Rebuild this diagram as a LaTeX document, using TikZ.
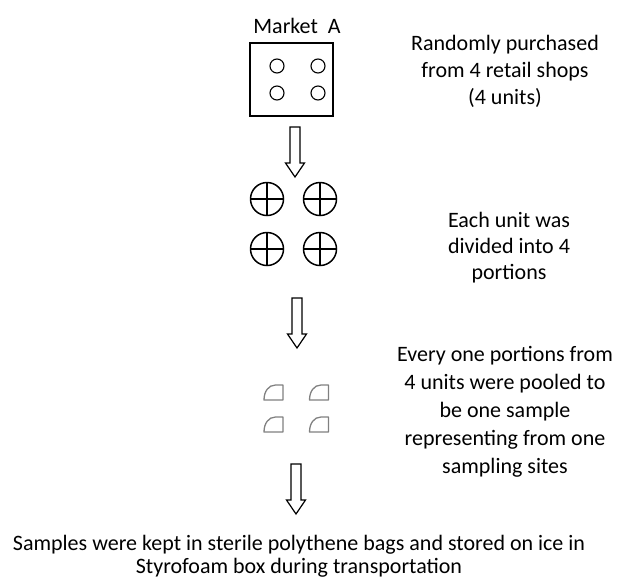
\documentclass[tikz,border=0pt]{standalone}
\usepackage{fontspec}
\setmainfont{Carlito}
\begin{document}
\begin{tikzpicture}[x=1pt,y=-1pt,
  lbl/.style={align=center,inner sep=0pt,font=\fontsize{22}{27}\selectfont},
  boxline/.style={draw=black,line width=1.5pt},
  unit/.style={draw=black,line width=1.1pt},
  crossc/.style={draw=black,line width=1.5pt},
  portion/.style={draw=black!50,line width=1.3pt,line join=round},
  blockarrow/.style={draw=black,line width=1.2pt,fill=white,line join=miter},
  downarrow/.pic={\path[blockarrow] (-5,0) -- (-5,36) -- (-9.5,36) -- (0,50) -- (9.5,36) -- (5,36) -- (5,0) -- cycle;},
  quarter/.pic={\path[portion] (9.5,-7.5) -- (9.5,7.5) -- (-9.5,7.5) .. controls (-9.5,-1) and (-5,-7.5) .. (2,-7.5) -- cycle;}
]
\useasboundingbox (0,0) rectangle (617,579);
% Market A
\node[lbl] (mkt) at (297,26) {Market~~A};
\node[boxline,minimum width=83pt,minimum height=73pt,inner sep=0pt] (box) at (291.5,79.5) {};
\foreach \x/\y [count=\i] in {277/66,318/66,277/93,318/93}
  \draw[unit] (\x,\y) circle[radius=7];
\node[lbl] (t1) at (505,71) {Randomly purchased\\from 4 retail shops\\(4 units)};
% arrow 1
\pic at (295,127) {downarrow};
% crossed circles
\foreach \x/\y in {267/199,320/199,267/249,320/249}{
  \draw[crossc] (\x,\y) circle[radius=16.5];
  \draw[crossc] (\x-16.5,\y) -- (\x+16.5,\y) (\x,\y-16.5) -- (\x,\y+16.5);
}
\node[lbl,font=\fontsize{22}{26}\selectfont] (t2) at (509,248) {Each unit was\\divided into 4\\portions};
% arrow 2
\pic at (297,298) {downarrow};
% portions
\foreach \x/\y in {273.5/392.5,319/392.5,273.5/424.5,319/424.5}
  \pic at (\x,\y) {quarter};
\node[lbl,font=\fontsize{22}{28}\selectfont] (t3) at (505,412) {Every one portions from\\4 units were pooled to\\be one sample\\representing from one\\sampling sites};
% arrow 3
\pic at (296,464) {downarrow};
\node[lbl,font=\fontsize{22}{23}\selectfont] (t4) at (299,556) {Samples were kept in sterile polythene bags and stored on ice in\\Styrofoam box during transportation};
\end{tikzpicture}
\end{document}
